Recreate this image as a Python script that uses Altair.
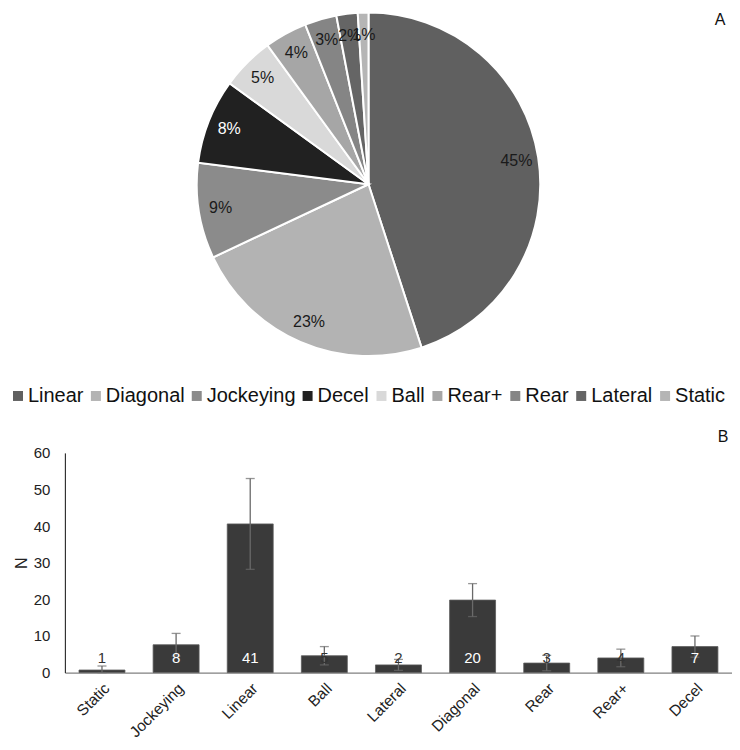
import altair as alt
import pandas as pd

FONT = "Liberation Sans"

# ---- Panel A: pie ----
pie_cats = ["Linear", "Diagonal", "Jockeying", "Decel", "Ball", "Rear+", "Rear", "Lateral", "Static"]
pie_pct = [45, 23, 9, 8, 5, 4, 3, 2, 1]
pie_colors = ["#606060", "#b3b3b3", "#8b8b8b", "#212121", "#d9d9d9", "#a6a6a6", "#858585", "#656565", "#b5b5b5"]

# ---- Panel B: bars ----
bar_cats = ["Static", "Jockeying", "Linear", "Ball", "Lateral", "Diagonal", "Rear", "Rear+", "Decel"]
bar_means = [0.7, 7.6, 40.6, 4.6, 2.1, 19.8, 2.6, 4.0, 7.1]
bar_err = [1.1, 3.1, 12.4, 2.5, 1.5, 4.5, 2.1, 2.4, 2.9]
bar_labels = ["1", "8", "41", "5", "2", "20", "3", "4", "7"]
y_ticks = [0, 10, 20, 30, 40, 50, 60]

pie_df = pd.DataFrame({
    "cat": pie_cats,
    "pct": pie_pct,
    "idx": list(range(len(pie_cats))),
    "label": [f"{p}%" for p in pie_pct],
})

bar_df = pd.DataFrame({"cat": bar_cats, "mean": bar_means, "err": bar_err, "label": bar_labels})
bar_df["lo"] = (bar_df["mean"] - bar_df["err"]).clip(lower=0)
bar_df["hi"] = bar_df["mean"] + bar_df["err"]

PIE_W, PIE_H, R = 608, 344, 172

pie_base = alt.Chart(pie_df).encode(
    theta=alt.Theta("pct:Q", stack=True),
    order=alt.Order("idx:Q"),
)

arcs = pie_base.mark_arc(outerRadius=R, stroke="white", strokeWidth=2).encode(
    color=alt.Color(
        "cat:N",
        sort=pie_cats,
        scale=alt.Scale(domain=pie_cats, range=pie_colors),
        legend=alt.Legend(
            orient="none", legendX=-57, legendY=374, direction="horizontal", columns=9,
            title=None, symbolType="square", symbolSize=100, symbolStrokeWidth=0,
            symbolOpacity=1, labelFontSize=20, labelFont=FONT, labelColor="#111",
            labelOffset=0, columnPadding=2, labelLimit=300, padding=0,
        ),
    )
)

pie_text = pie_base.mark_text(radius=150, fontSize=16, font=FONT).encode(
    text="label:N",
    color=alt.condition(alt.datum.cat == "Decel", alt.value("white"), alt.value("#1a1a1a")),
)

letter_a = alt.Chart(pd.DataFrame({"t": ["A"]})).mark_text(
    fontSize=16, font=FONT, color="#111", baseline="middle"
).encode(x=alt.value(656), y=alt.value(8), text="t:N")

pie_chart = alt.layer(arcs, pie_text, letter_a).properties(width=PIE_W, height=PIE_H)

xaxis = alt.Axis(labelAngle=-45, labelFontSize=15.5, labelFont=FONT, labelColor="#222",
                 ticks=False, labelPadding=8, domainColor="#808080", domainWidth=1.2)
yaxis = alt.Axis(values=y_ticks, title="N", grid=False, ticks=False,
                 labelPadding=15, labelOverlap=False,
                 labelFontSize=15, labelFont=FONT, labelColor="#222",
                 titleFontSize=16, titleFont=FONT, titleFontWeight="normal",
                 titleColor="#222", titlePadding=4, domainColor="#333", domainWidth=1.2)
yscale = alt.Scale(domain=[0, 60])

xenc = alt.X("cat:N", sort=bar_cats, title=None,
             scale=alt.Scale(paddingInner=0.38, paddingOuter=0.19), axis=xaxis)

base = alt.Chart(bar_df).encode(x=xenc)

bars = base.mark_bar(color="#3a3a3a", stroke="#5c5c5c", strokeWidth=0.8).encode(
    y=alt.Y("mean:Q", scale=yscale, axis=yaxis, title="N"),
)

err_rule = base.mark_rule(color="#6a6a6a", strokeWidth=1.3).encode(
    y=alt.Y("lo:Q", scale=yscale, axis=yaxis, title="N"), y2="hi:Q"
)
cap_hi = base.mark_tick(color="#6a6a6a", size=9, thickness=1.3).encode(
    y=alt.Y("hi:Q", scale=yscale, axis=yaxis, title="N")
)
cap_lo = base.mark_tick(color="#6a6a6a", size=9, thickness=1.3).encode(
    y=alt.Y("lo:Q", scale=yscale, axis=yaxis, title="N")
)

bar_text = base.mark_text(fontSize=15, font=FONT, baseline="middle", dy=-15).encode(
    y=alt.Y("zero:Q", scale=yscale, axis=yaxis, title="N"),
    text="label:N",
    color=alt.condition("datum.mean >= 6", alt.value("white"), alt.value("#333")),
).transform_calculate(zero="0")

letter_b = alt.Chart(pd.DataFrame({"t": ["B"]})).mark_text(
    fontSize=16, font=FONT, color="#111", baseline="middle"
).encode(x=alt.value(659), y=alt.value(-16), text="t:N")

bar_chart = alt.layer(bars, err_rule, cap_hi, cap_lo, bar_text, letter_b).properties(width=668, height=220)

chart = alt.vconcat(pie_chart, bar_chart, spacing=97, bounds="flush").resolve_scale(
    color="independent"
).properties(
    padding={"left": 0, "top": 0, "right": 0, "bottom": 0}
).configure(font=FONT, padding={"left": 0, "top": 0, "right": 0, "bottom": 0}).configure_view(stroke=None)

chart.save("out.html", embed_options={"renderer": "svg", "actions": False})
